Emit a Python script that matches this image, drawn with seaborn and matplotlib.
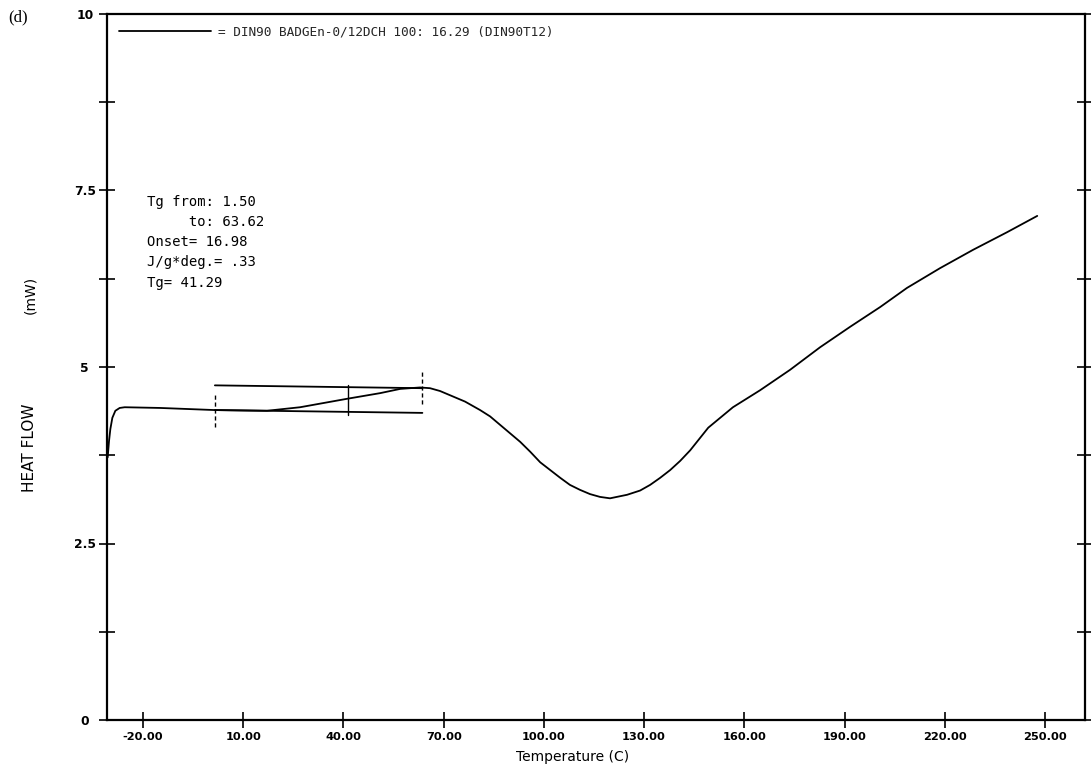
import numpy as np
import pandas as pd
import seaborn as sns
import matplotlib
matplotlib.use("Agg")
import matplotlib.pyplot as plt
from matplotlib.ticker import FixedLocator, MultipleLocator
from matplotlib.lines import Line2D

# ---------------- data ----------------
temperature = [-30.6, -30.2, -29.8, -29.2, -28.3, -27.0, -25.5, -14.9, 1.5, 17.1, 27.0,
               41.1, 51.0, 57.0, 62.9, 65.9, 68.9, 71.9, 76.4, 80.9, 83.9, 86.9,
               89.9, 92.9, 95.9, 98.9, 101.9, 104.9, 107.8, 110.8, 113.8, 116.8,
               119.8, 124.9, 128.8, 131.8, 134.8, 137.8, 140.8, 143.8, 149.2,
               156.6, 164.7, 173.7, 182.7, 191.7, 200.7, 208.7, 218.6, 228.5,
               238.7, 247.7]
heat_flow = [3.72, 3.95, 4.12, 4.28, 4.38, 4.42, 4.43, 4.42, 4.39, 4.38, 4.43,
             4.55, 4.63, 4.69, 4.71, 4.70, 4.66, 4.60, 4.51, 4.39, 4.30, 4.18,
             4.06, 3.94, 3.80, 3.65, 3.54, 3.43, 3.33, 3.26, 3.20, 3.16,
             3.14, 3.19, 3.25, 3.33, 3.43, 3.54, 3.67, 3.82, 4.14,
             4.43, 4.67, 4.96, 5.28, 5.57, 5.85, 6.12, 6.40, 6.66,
             6.91, 7.14]

# Tg analysis construction
tg_from, tg_to, tg_mid = 1.50, 63.62, 41.29
upper_tangent = [4.74, 4.70]
lower_baseline = [4.39, 4.35]
marker_from = [4.15, 4.63]
marker_mid = [4.32, 4.74]
marker_to = [4.48, 4.93]

x_ticks = [-20, 10, 40, 70, 100, 130, 160, 190, 220, 250]
x_tick_labels = ["-20.00", "10.00", "40.00", "70.00", "100.00", "130.00",
                 "160.00", "190.00", "220.00", "250.00"]
y_ticks = [0, 2.5, 5, 7.5, 10]
y_tick_labels = ["0", "2.5", "5", "7.5", "10"]

legend_label = "= DIN90 BADGEn-0/12DCH 100: 16.29 (DIN90T12)"
info_lines = ["Tg from: 1.50", "     to: 63.62", "Onset= 16.98",
              "J/g*deg.= .33", "Tg= 41.29"]

# ---------------- style ----------------
sns.set_theme(style="white")
plt.rcParams['font.family'] = ['DejaVu Sans']
plt.rcParams['axes.edgecolor'] = 'black'
plt.rcParams['axes.linewidth'] = 1.6

W, H = 1091, 771
fig = plt.figure(figsize=(W / 100, H / 100), dpi=100)
fig.patch.set_facecolor('white')
ax = fig.add_axes([107 / W, 1 - 720 / H, 978 / W, 706 / H])
ax.set_facecolor('white')

df = pd.DataFrame({"Temperature": temperature, "HeatFlow": heat_flow})
sns.lineplot(data=df, x="Temperature", y="HeatFlow", ax=ax, color="black",
             linewidth=1.3, sort=False, legend=False)

# construction lines
ax.plot([tg_from, tg_to], upper_tangent, color="black", lw=1.3)
ax.plot([tg_from, tg_to], lower_baseline, color="black", lw=1.3)
ax.plot([tg_from, tg_from], marker_from, color="black", lw=1.0, ls=(0, (3, 2)))
ax.plot([tg_mid, tg_mid], marker_mid, color="black", lw=1.0)
ax.plot([tg_to, tg_to], marker_to, color="black", lw=1.0, ls=(0, (3, 2)))

ax.set_xlim(-30.8, 262)
ax.set_ylim(0, 10)

ax.xaxis.set_major_locator(FixedLocator(x_ticks))
ax.set_xticklabels(x_tick_labels)
ax.yaxis.set_major_locator(FixedLocator(y_ticks))
ax.set_yticklabels(y_tick_labels)
ax.yaxis.set_minor_locator(MultipleLocator(1.25))

ax.tick_params(axis='x', which='major', direction='inout', length=12, width=1.2,
               bottom=True, top=False, labelsize=8.2, pad=3, colors='black')
ax.tick_params(axis='y', which='both', direction='inout', length=12, width=1.2,
               left=True, right=True, labelsize=8.8, pad=10, colors='black')
for lab in ax.get_xticklabels() + ax.get_yticklabels():
    lab.set_fontweight('bold')
for lab in ax.get_yticklabels():
    lab.set_horizontalalignment('center')

ax.set_xlabel("Temperature (C)", fontsize=10, color='black')
ax.xaxis.set_label_coords(0.476, -0.042)
ax.set_ylabel("")
fig.text(30 / W, 1 - 448 / H, "HEAT FLOW", rotation=90, ha='center',
         va='center', fontsize=11, color='black')
fig.text(30 / W, 1 - 295 / H, "(mW)", rotation=90, ha='center',
         va='center', fontsize=10, color='black')

# panel tag
fig.text(8 / W, 1 - 17 / H, "(d)", fontsize=12, family='Liberation Serif',
         ha='left', va='center', color='black')

# legend
handle = Line2D([], [], color='black', lw=1.3)
ax.legend([handle], [legend_label], loc='upper left', bbox_to_anchor=(0.0, 1.0),
          frameon=False, handlelength=7.2, handletextpad=0.6, borderaxespad=0.5,
          prop={'family': 'DejaVu Sans Mono', 'size': 9.2})

ax.text(40 / 978, (720 - 195) / 706, "\n".join(info_lines), transform=ax.transAxes,
        ha='left', va='top', family='DejaVu Sans Mono', fontsize=10,
        linespacing=1.56, color='black')

for s in ax.spines.values():
    s.set_visible(True)
    s.set_color('black')

fig.savefig("out.png", dpi=100, facecolor='white')
